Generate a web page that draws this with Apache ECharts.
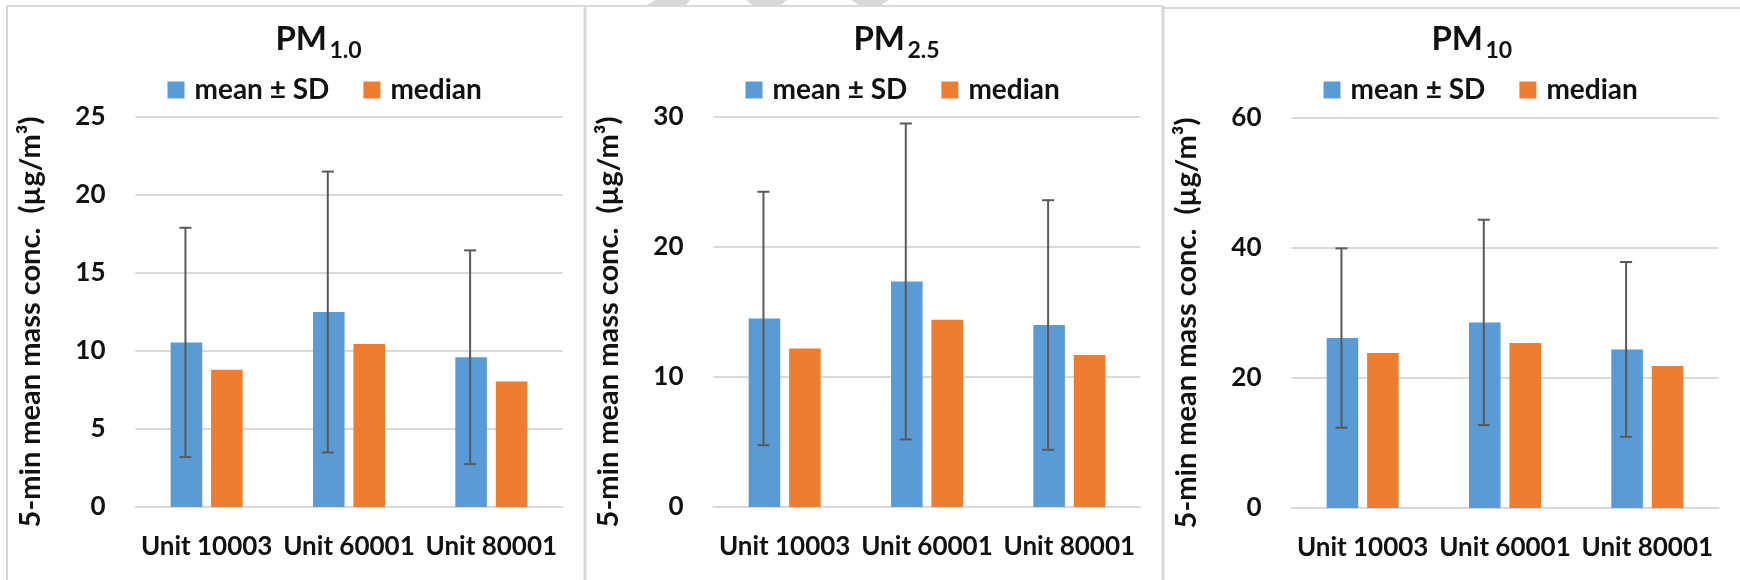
<!DOCTYPE html>
<html>
<head>
<meta charset="utf-8">
<title>5-min mean mass concentration by unit</title>
<script src="https://cdn.jsdelivr.net/npm/echarts@6/dist/echarts.min.js"></script>
<style>
  html, body { margin: 0; padding: 0; background: #ffffff; }
  #chart { width: 1740px; height: 580px; }
</style>
</head>
<body>
<div id="chart"></div>
<script>
// ---- data ----
const categories = ['Unit 10003', 'Unit 60001', 'Unit 80001'];
const meanName = 'mean ± SD';
const medianName = 'median';

const pm1Mean = [10.55, 12.5, 9.6];
const pm1Median = [8.8, 10.45, 8.05];
const pm1Sd = [7.35, 9.0, 6.85];

const pm25Mean = [14.5, 17.35, 14.0];
const pm25Median = [12.2, 14.4, 11.7];
const pm25Sd = [9.75, 12.15, 9.6];

const pm10Mean = [26.15, 28.55, 24.4];
const pm10Median = [23.85, 25.4, 21.85];
const pm10Sd = [13.8, 15.8, 13.45];

const pm1Ticks = { max: 25, interval: 5 };
const pm25Ticks = { max: 30, interval: 10 };
const pm10Ticks = { max: 60, interval: 20 };

const yAxisName = '5-min mean mass conc.  (µg/m³)';

// ---- style ----
const FONT = 'Lato, "Open Sans", sans-serif';
const TEXT = '#111111';
const BLUE = '#5b9bd5';
const ORANGE = '#ed7d31';
const GRID_GRAY = '#d9d9d9';
const ERR_GRAY = '#595959';
const BAR_FRAC = 0.222;  // bar width as share of category band
const BAR_GAP = 0.28;    // gap between the two bars, relative to bar width
const PANEL_STEP = 578;  // the three charts are laid out side by side

const panels = [
  { sub: '1.0', mean: pm1Mean, median: pm1Median, sd: pm1Sd, ticks: pm1Ticks, top: 117 },
  { sub: '2.5', mean: pm25Mean, median: pm25Median, sd: pm25Sd, ticks: pm25Ticks, top: 117 },
  { sub: '10', mean: pm10Mean, median: pm10Median, sd: pm10Sd, ticks: pm10Ticks, top: 118 }
];

// vertical error bar with caps, centred on the "mean" bar of each group
function renderErrorBar(params, api) {
  const cat = api.value(0);
  const lo = api.coord([cat, api.value(1)]);
  const hi = api.coord([cat, api.value(2)]);
  const band = api.size([1, 0])[0];
  const bw = band * BAR_FRAC;
  const x = hi[0] - bw * (1 + BAR_GAP) / 2 - 1;
  const cap = 6;
  const style = { stroke: ERR_GRAY, lineWidth: 2 };
  return {
    type: 'group',
    children: [
      { type: 'line', shape: { x1: x, y1: hi[1], x2: x, y2: lo[1] }, style },
      { type: 'line', shape: { x1: x - cap, y1: hi[1], x2: x + cap, y2: hi[1] }, style },
      { type: 'line', shape: { x1: x - cap, y1: lo[1], x2: x + cap, y2: lo[1] }, style }
    ]
  };
}

const grids = [], xAxes = [], yAxes = [], legends = [], series = [], graphics = [];

panels.forEach((p, i) => {
  const ox = i * PANEL_STEP;

  grids.push({ left: 135.5 + ox, top: p.top, width: 427, height: 390, containLabel: false });

  xAxes.push({
    gridIndex: i, type: 'category', data: categories,
    axisTick: { show: false },
    axisLine: { lineStyle: { color: GRID_GRAY, width: 2 } },
    axisLabel: { interval: 0, margin: 27, fontSize: 26, fontWeight: 'bold', color: TEXT, fontFamily: FONT }
  });

  yAxes.push({
    gridIndex: i, type: 'value', min: 0, max: p.ticks.max, interval: p.ticks.interval,
    axisLine: { show: false }, axisTick: { show: false },
    splitLine: { lineStyle: { color: GRID_GRAY, width: 2 } },
    axisLabel: { margin: 30, fontSize: 26, fontWeight: 'bold', color: TEXT, fontFamily: FONT },
    name: yAxisName, nameLocation: 'middle', nameGap: 90, nameRotate: 90,
    nameTextStyle: { fontSize: 29, fontWeight: 'bold', color: TEXT, fontFamily: FONT, padding: [0, 20, 0, 0] }
  });

  legends.push({
    data: [meanName, medianName],
    left: 167.5 + ox, top: 76, padding: 0,
    icon: 'rect', itemWidth: 17, itemHeight: 17, itemGap: 34,
    selectedMode: false,
    textStyle: { fontSize: 28, fontWeight: 'bold', color: TEXT, fontFamily: FONT, padding: [0, 0, 0, 5] }
  });

  series.push({
    name: meanName, type: 'bar', xAxisIndex: i, yAxisIndex: i,
    data: p.mean, barWidth: (BAR_FRAC * 100) + '%', barGap: (BAR_GAP * 100) + '%',
    itemStyle: { color: BLUE }, silent: true
  });
  series.push({
    name: medianName, type: 'bar', xAxisIndex: i, yAxisIndex: i,
    data: p.median, barWidth: (BAR_FRAC * 100) + '%', barGap: (BAR_GAP * 100) + '%',
    itemStyle: { color: ORANGE }, silent: true
  });
  series.push({
    name: 'sd-' + i, type: 'custom', xAxisIndex: i, yAxisIndex: i, z: 5,
    renderItem: renderErrorBar,
    encode: { x: 0, y: [1, 2] },
    data: categories.map((c, k) => [k, p.mean[k] - p.sd[k], p.mean[k] + p.sd[k]]),
    silent: true
  });

  // panel title: "PM" with the size class as a subscript
  graphics.push({
    type: 'text', x: 327 + ox, y: 39, z: 10,
    style: { text: 'PM', align: 'right', verticalAlign: 'middle',
      fontSize: 33, fontWeight: 'bold', fontFamily: FONT, fill: TEXT }
  });
  graphics.push({
    type: 'text', x: 329.5 + ox, y: 51, z: 10,
    style: { text: p.sub, align: 'left', verticalAlign: 'middle',
      fontSize: 23, fontWeight: 'bold', fontFamily: FONT, fill: TEXT }
  });
});

// panel frames
const frame = { stroke: GRID_GRAY, lineWidth: 2 };
graphics.push(
  { type: 'line', shape: { x1: 7, y1: 6, x2: 7, y2: 580 }, style: frame },
  { type: 'line', shape: { x1: 6, y1: 6, x2: 1163, y2: 6 }, style: frame },
  { type: 'line', shape: { x1: 585, y1: 6, x2: 585, y2: 580 }, style: { stroke: GRID_GRAY, lineWidth: 3 } },
  { type: 'line', shape: { x1: 1163, y1: 6, x2: 1163, y2: 580 }, style: { stroke: GRID_GRAY, lineWidth: 3 } },
  { type: 'line', shape: { x1: 1163, y1: 8, x2: 1740, y2: 8 }, style: frame },
  // light marks along the top edge
  { type: 'polygon', shape: { points: [[656, 0], [690, 0], [685, 7], [643, 7]] }, style: { fill: GRID_GRAY } },
  { type: 'polygon', shape: { points: [[746, 0], [787, 0], [780, 6], [754, 6]] }, style: { fill: GRID_GRAY } },
  { type: 'polygon', shape: { points: [[851, 0], [889, 0], [880, 6], [860, 6]] }, style: { fill: GRID_GRAY } }
);

const chart = echarts.init(document.getElementById('chart'), null, { renderer: 'canvas' });
chart.setOption({
  animation: false,
  backgroundColor: '#ffffff',
  textStyle: { fontFamily: FONT },
  grid: grids,
  xAxis: xAxes,
  yAxis: yAxes,
  legend: legends,
  series: series,
  graphic: graphics
});
</script>
</body>
</html>
